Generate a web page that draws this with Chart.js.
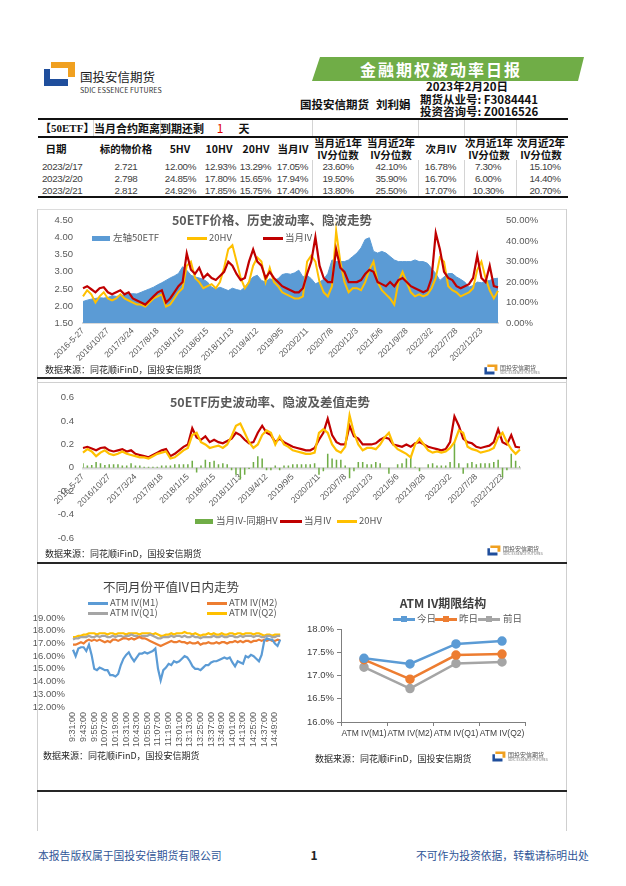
<!DOCTYPE html>
<html>
<head>
<meta charset="utf-8">
<script src="https://cdn.jsdelivr.net/npm/chart.js@4.4.1/dist/chart.umd.min.js"></script>
<style>
body{margin:0;width:626px;height:886px;position:relative;background:#fff;overflow:hidden;font-family:"Noto Sans CJK SC","Noto Sans",sans-serif}
.a{position:absolute;white-space:nowrap;line-height:1}
.r{position:absolute}
canvas{position:absolute}
</style>
</head>
<body>
<canvas id="c1" width="531" height="175" style="left:37px;top:205px"></canvas>
<canvas id="c2" width="531" height="180" style="left:37px;top:383px"></canvas>
<canvas id="c3" width="274" height="190" style="left:22px;top:570px"></canvas>
<canvas id="c4" width="266" height="150" style="left:300px;top:595px"></canvas>
<script>
// ---- data ----
var tickLabels = ['2016-5-27','2016/10/27','2017/3/24','2017/8/18','2018/1/15','2018/6/15','2018/11/13','2019/4/12','2019/9/5','2020/2/11','2020/7/8','2020/12/3','2021/5/6','2021/9/28','2022/3/2','2022/7/28','2022/12/23'];

var etfPrice = [2.13,2.17,2.20,2.22,2.24,2.23, 2.25,2.30,2.28,2.30,2.33,2.35, 2.36,2.35,2.40,2.45,2.50,2.55,
  2.62,2.68,2.75,2.82,2.88,2.95, 3.15,3.05,2.90,2.85,2.82,2.78, 2.70,2.55,2.50,2.55,2.50,2.45,
  2.52,2.48,2.45,2.55,2.72,2.85, 2.90,2.75,2.70,2.80,2.75,2.80, 2.92,2.95,2.93,2.97,3.05,2.85,
  2.90,2.80,2.65,2.70,2.78,2.95, 3.35,3.30,3.30,3.30,3.35,3.45, 3.55,3.70,3.95,4.00,3.60,3.55,
  3.60,3.55,3.45,3.35,3.30,3.30, 3.30,3.30,3.35,3.30,3.30,3.25, 3.10,2.95,2.75,2.85,2.95,2.95,
  2.85,2.78,2.70,2.55,2.60,2.70, 2.68,2.72,2.75,2.80,2.812];

var ivMonth = [17,18,16.5,15,17,17.5, 15,14,15,16,14,15, 12,11,10,9,11,13,
  15,16,10,12,15,18, 20,34,26,24,27,22, 24,22,21,23,25,30,
  28,24,21,22,30,36, 30,28,22,25,22,20, 18,17,16,15,15,17,
  24,30,42,28,22,20, 20,36,27,25,20,20, 20,21,24,26,25,20,
  19,18,20,18,21,22, 20,18,17,16,15,16, 22,44,36,25,22,21,
  18,17,18,19,22,33, 22,20,28,18,17.4];

var hv20 = [13,16,14,10,13,15, 12,11,12,14,12,11, 10,9,9,8,10,12,
  13,14,8,9,12,15, 17,28,30,22,20,17, 18,19,17,20,27,36,
  38,30,22,17,20,28, 32,30,20,27,20,18, 15,14,13,12,12,13,
  30,33,30,20,15,13, 18,45,30,20,15,17, 17,16,20,26,30,20,
  16,14,12,9,20,25, 20,15,13,14,13,14, 17,22,32,30,18,16,
  15,13,14,15,17,26, 30,22,16,12,15.75];

var timeTicks = ['9:31:00','9:43:00','9:55:00','10:07:00','10:19:00','10:31:00','10:43:00','10:55:00','11:07:00','11:19:00','13:01:00','13:13:00','13:25:00','13:37:00','13:49:00','14:01:00','14:13:00','14:25:00','14:37:00','14:49:00'];

var ivM1 = [16.5,16.0,16.6,16.7,16.7,16.4,16.9,16.1,15.0,14.9, 15.1,15.0,14.9,14.9,14.5,14.5,14.4,14.6,15.3,15.8,
  16.1,16.3,15.9,15.6,15.9,16.2,16.2,16.3,16.2,16.3, 16.4,16.6,15.0,14.1,14.9,15.1,15.4,15.3,15.6,15.5,
  15.6,15.8,16.0,15.9,15.6,15.2,15.0,15.0,14.9,15.1, 15.3,15.3,15.5,15.6,15.6,15.7,15.8,15.9,15.8,15.9,
  15.5,15.2,15.6,15.5,15.4,16.0,15.9,16.1,16.0,15.8, 15.6,16.1,17.2,17.4,17.3,17.3,17.0,16.8,17.3];
var ivM2 = [16.9,16.9,17.0,17.1,17.0,17.2,17.3,17.2,17.3,17.2, 17.3,17.2,17.1,17.2,17.1,17.3,17.3,17.2,17.3,17.4,
  17.4,17.3,17.4,17.3,17.4,17.5,17.4,17.4,17.3,17.2, 17.1,17.0,16.9,16.8,16.9,17.0,17.1,17.2,17.1,17.1,
  17.2,17.1,17.1,17.0,17.1,17.0,17.0,17.1,16.9,17.0, 17.0,17.1,17.0,17.0,17.1,17.0,17.1,17.1,17.0,17.1,
  17.1,17.2,17.1,17.2,17.1,17.2,17.2,17.1,17.2,17.2, 17.3,17.2,17.3,17.2,17.3,17.2,17.2,17.3,17.25];
var ivQ1 = [17.3,17.4,17.4,17.5,17.5,17.5,17.6,17.5,17.5,17.6, 17.5,17.6,17.6,17.5,17.5,17.6,17.5,17.6,17.6,17.5,
  17.6,17.6,17.7,17.6,17.6,17.5,17.6,17.6,17.6,17.7, 17.6,17.5,17.4,17.4,17.5,17.5,17.5,17.6,17.5,17.6,
  17.6,17.5,17.6,17.5,17.5,17.6,17.5,17.5,17.4,17.5, 17.5,17.5,17.5,17.6,17.5,17.5,17.6,17.5,17.5,17.6,
  17.6,17.5,17.5,17.6,17.5,17.6,17.6,17.6,17.5,17.6, 17.6,17.5,17.5,17.6,17.6,17.5,17.5,17.6,17.6];
var ivQ2 = [17.5,17.5,17.6,17.6,17.7,17.7,17.8,17.8,17.8,17.7, 17.8,17.8,17.8,17.7,17.8,17.8,17.7,17.8,17.8,17.8,
  17.7,17.8,17.8,17.8,17.8,17.7,17.8,17.8,17.8,17.8, 17.7,17.8,17.7,17.6,17.6,17.7,17.7,17.8,17.7,17.8,
  17.8,17.8,17.9,17.8,17.8,17.7,17.8,17.7,17.6,17.7, 17.7,17.8,17.7,17.8,17.7,17.7,17.8,17.7,17.7,17.8,
  17.8,17.7,17.8,17.8,17.7,17.8,17.8,17.8,17.7,17.8, 17.8,17.7,17.6,17.7,17.7,17.6,17.7,17.7,17.7];

var termLabels = ['ATM IV(M1)','ATM IV(M2)','ATM IV(Q1)','ATM IV(Q2)'];
var termToday = [17.37,17.25,17.68,17.74];
var termYesterday = [17.34,16.92,17.44,17.46];
var termBefore = [17.18,16.72,17.26,17.29];

var tblDates = ['2023/2/17','2023/2/20','2023/2/21'];
var tblPrice = ['2.721','2.798','2.812'];
var tblHv5 = ['12.00%','24.85%','24.92%'];
var tblHv10 = ['12.93%','17.80%','17.85%'];
var tblHv20 = ['13.29%','15.65%','15.75%'];
var tblIv = ['17.05%','17.94%','17.40%'];
var tblIv1y = ['23.60%','19.50%','13.80%'];
var tblIv2y = ['42.10%','35.90%','25.50%'];
var tblIvNext = ['16.78%','16.70%','17.07%'];
var tblNext1y = ['7.30%','6.00%','10.30%'];
var tblNext2y = ['15.10%','14.40%','20.70%'];

// ---- helpers ----
function txt(x, y, s, css, align) {
  var d = document.createElement('div');
  d.className = 'a';
  d.textContent = s;
  d.style.left = x + 'px';
  d.style.top = y + 'px';
  var tx = align === 'c' ? '-50%' : (align === 'r' ? '-100%' : '0');
  d.style.transform = 'translate(' + tx + ',-50%)';
  if (css) d.style.cssText += css;
  document.body.appendChild(d);
}
function rule(x, y, w, h, color) {
  var d = document.createElement('div');
  d.className = 'r';
  d.style.cssText = 'left:' + x + 'px;top:' + y + 'px;width:' + w + 'px;height:' + h + 'px;background:' + color;
  document.body.appendChild(d);
}
function logo(x, y, s) {
  var d = document.createElement('div');
  d.innerHTML = '<svg width="' + 34 * s + '" height="' + 26 * s + '" viewBox="0 0 34 26">' +
    '<path d="M8 1 H32 V16 H25 V7 H8 Z" fill="#F0A020"/>' +
    '<path d="M1 8 H7 V18 H25 V25 H1 Z" fill="#1F4E9C"/></svg>';
  d.style.cssText = 'position:absolute;left:' + x + 'px;top:' + y + 'px;line-height:0';
  document.body.appendChild(d);
}
function smallLogo(x, y) {
  logo(x, y, 0.42);
  txt(x + 16, y + 4, '国投安信期货', 'font-size:6px;color:#555');
  txt(x + 16, y + 9, 'SDIC ESSENCE FUTURES', 'font-size:3.5px;color:#777');
}
function legLine(x, y, w, color, h) {
  rule(x, y - (h || 3) / 2, w, h || 3, color);
}

// ---- header ----
logo(43, 61, 1);
txt(80, 77, '国投安信期货', 'font-size:12.5px;color:#1a1a1a');
txt(80, 90, 'SDIC ESSENCE FUTURES', 'font-size:7px;color:#333;letter-spacing:0.1px');

var ban = document.createElement('div');
ban.innerHTML = '<svg width="280" height="26"><polygon points="8,0 272,0 266,24 0,24" fill="#70AD47"/></svg>';
ban.style.cssText = 'position:absolute;left:312px;top:57px;line-height:0';
document.body.appendChild(ban);
txt(441, 69, '金融期权波动率日报', 'font-size:16px;font-weight:bold;color:#fff;letter-spacing:2px', 'c');

txt(467, 87, '2023年2月20日', 'font-size:11.5px;font-weight:bold;color:#111', 'c');
txt(300, 105, '国投安信期货', 'font-size:11.5px;font-weight:bold;color:#111');
txt(376, 105, '刘利娟', 'font-size:11.5px;font-weight:bold;color:#111');
txt(420, 100, '期货从业号: F3084441', 'font-size:11.5px;font-weight:bold;color:#111');
txt(420, 112, '投资咨询号: Z0016526', 'font-size:11.5px;font-weight:bold;color:#111');

// ---- table ----
rule(38, 118, 530, 2, '#111');
rule(38, 136, 530, 2, '#111');
rule(38, 196, 530, 2, '#111');
[93, 160, 312, 418, 464, 516].forEach(function (x) { rule(x, 120, 1, 16, '#d4d4d4'); });
[312, 418, 464, 516].forEach(function (x) { rule(x, 160, 1, 36, '#d4d4d4'); });

txt(40, 128, '【50ETF】', 'font-size:11px;font-weight:bold;color:#111;font-family:"Liberation Serif","Noto Sans CJK SC"');
txt(94, 128, '当月合约距离到期还剩', 'font-size:11px;font-weight:bold;color:#111');
txt(220, 128, '1', 'font-size:12px;color:#e00000', 'c');
txt(244, 128, '天', 'font-size:11px;font-weight:bold;color:#111', 'c');

var hCss = 'font-size:10.5px;font-weight:bold;color:#111';
txt(56, 149, '日期', hCss, 'c');
txt(126, 149, '标的物价格', hCss, 'c');
txt(180, 149, '5HV', hCss, 'c');
txt(219, 149, '10HV', hCss, 'c');
txt(256, 149, '20HV', hCss, 'c');
txt(293, 149, '当月IV', hCss, 'c');
txt(338, 143, '当月近1年', hCss, 'c');
txt(338, 155, 'IV分位数', hCss, 'c');
txt(391, 143, '当月近2年', hCss, 'c');
txt(391, 155, 'IV分位数', hCss, 'c');
txt(441, 149, '次月IV', hCss, 'c');
txt(489, 143, '次月近1年', hCss, 'c');
txt(489, 155, 'IV分位数', hCss, 'c');
txt(541, 143, '次月近2年', hCss, 'c');
txt(541, 155, 'IV分位数', hCss, 'c');

var dCss = 'font-size:9.8px;letter-spacing:-0.35px;color:#404040;font-family:"Liberation Sans",sans-serif';
var rowY = [167, 179, 191];
for (var r = 0; r < 3; r++) {
  var y = rowY[r];
  txt(42, y, tblDates[r], dCss);
  txt(126, y, tblPrice[r], dCss, 'c');
  txt(196, y, tblHv5[r], dCss, 'r');
  txt(236, y, tblHv10[r], dCss, 'r');
  txt(271, y, tblHv20[r], dCss, 'r');
  txt(308, y, tblIv[r], dCss, 'r');
  txt(338, y, tblIv1y[r], dCss, 'c');
  txt(391, y, tblIv2y[r], dCss, 'c');
  txt(456, y, tblIvNext[r], dCss, 'r');
  txt(488, y, tblNext1y[r], dCss, 'c');
  txt(545, y, tblNext2y[r], dCss, 'c');
}

// ---- frames ----
rule(37, 209, 530, 1, '#dcdcdc');
rule(37, 209, 1, 622, '#cfcfcf');
rule(566, 209, 1, 622, '#cfcfcf');
rule(37, 377, 530, 2, '#262626');
rule(37, 382, 530, 1, '#d0d0d0');
rule(37, 562, 530, 2, '#262626');
rule(37, 790, 530, 2, '#262626');

// ---- chart texts ----
var srcCss = 'font-size:9px;color:#262626';
var legCss = 'font-size:9.5px;color:#595959';
txt(272, 220, '50ETF价格、历史波动率、隐波走势', 'font-size:12.5px;font-weight:bold;color:#595959', 'c');
rule(92, 236, 18, 5, '#5B9BD5');
txt(113, 238, '左轴50ETF', legCss);
legLine(187, 238, 20, '#FFC000');
txt(209, 238, '20HV', legCss);
legLine(263, 238, 20, '#C00000');
txt(285, 238, '当月IV', legCss);
txt(45, 369, '数据来源：同花顺iFinD，国投安信期货', srcCss);
smallLogo(484, 364);

txt(270, 402, '50ETF历史波动率、隐波及差值走势', 'font-size:12.5px;font-weight:bold;color:#595959', 'c');
rule(195, 519, 18, 5, '#70AD47');
txt(216, 521, '当月IV-同期HV', legCss);
legLine(280, 521, 22, '#C00000');
txt(304, 521, '当月IV', legCss);
legLine(337, 521, 20, '#FFC000');
txt(359, 521, '20HV', legCss);
txt(45, 553, '数据来源：同花顺iFinD，国投安信期货', srcCss);
smallLogo(487, 545);

txt(171, 587, '不同月份平值IV日内走势', 'font-size:12.5px;color:#404040', 'c');
legLine(88, 603, 20, '#5B9BD5');
txt(110, 603, 'ATM IV(M1)', legCss);
legLine(207, 603, 20, '#ED7D31');
txt(229, 603, 'ATM IV(M2)', legCss);
legLine(88, 613, 20, '#A5A5A5');
txt(110, 613, 'ATM IV(Q1)', legCss);
legLine(207, 613, 20, '#FFC000');
txt(229, 613, 'ATM IV(Q2)', legCss);
txt(43, 755, '数据来源：同花顺iFinD，国投安信期货', srcCss);

txt(443, 603, 'ATM IV期限结构', 'font-size:12px;font-weight:bold;color:#404040', 'c');
legLine(393, 619, 22, '#5B9BD5');
rule(401, 616, 6, 6, '#5B9BD5');
txt(417, 619, '今日', legCss);
legLine(435, 619, 22, '#ED7D31');
rule(443, 616, 6, 6, '#ED7D31');
txt(459, 619, '昨日', legCss);
legLine(478, 619, 22, '#A5A5A5');
rule(486, 616, 6, 6, '#A5A5A5');
txt(503, 619, '前日', legCss);
txt(315, 758, '数据来源：同花顺iFinD，国投安信期货', srcCss);
smallLogo(492, 751);

// ---- footer ----
txt(38, 855, '本报告版权属于国投安信期货有限公司', 'font-size:10.8px;color:#2F5597');
txt(314, 855, '1', 'font-size:12px;font-weight:bold;color:#222', 'c');
txt(416, 855, '不可作为投资依据，转载请标明出处', 'font-size:10.8px;color:#2F5597');

// ---- charts ----
Chart.defaults.font.family = '"Liberation Sans","Noto Sans CJK SC",sans-serif';
Chart.defaults.color = '#595959';

var longLabels = etfPrice.map(function (v, i) { return i % 6 === 0 ? tickLabels[i / 6] : ''; });
var intraLabels = ivM1.map(function (v, i) { return i % 4 === 0 ? timeTicks[i / 4] : ''; });
var noPlugins = { legend: { display: false }, tooltip: { enabled: false } };
var noGrid = { display: false, drawTicks: false };

new Chart(document.getElementById('c1'), {
  type: 'line',
  data: {
    labels: longLabels,
    datasets: [
      { label: '当月IV', data: ivMonth, yAxisID: 'yR', borderColor: '#C00000', borderWidth: 2.2, pointRadius: 0, order: 0 },
      { label: '20HV', data: hv20, yAxisID: 'yR', borderColor: '#FFC000', borderWidth: 2, pointRadius: 0, order: 1 },
      { label: '左轴50ETF', data: etfPrice, yAxisID: 'yL', borderColor: '#5B9BD5', backgroundColor: '#5B9BD5', borderWidth: 1, pointRadius: 0, fill: 'start', order: 2 }
    ]
  },
  options: {
    responsive: false, animation: false,
    layout: { padding: { top: 13, left: 0, right: 0, bottom: 0 } },
    plugins: noPlugins,
    scales: {
      x: { offset: false, grid: noGrid, border: { color: '#D9D9D9', width: 2 },
        ticks: { autoSkip: false, minRotation: 45, maxRotation: 45, font: { size: 8.5 }, padding: 3 },
        afterFit: function (s) { s.height = 57; } },
      yL: { position: 'left', min: 1.5, max: 4.5, grid: noGrid, border: { display: false },
        ticks: { stepSize: 0.5, autoSkip: false, font: { size: 9.5 }, padding: 10, callback: function (v) { return v.toFixed(2); } },
        afterFit: function (s) { s.width = 46; } },
      yR: { position: 'right', min: 0, max: 50, grid: noGrid, border: { display: false },
        ticks: { stepSize: 10, autoSkip: false, font: { size: 9.5 }, padding: 8, callback: function (v) { return v.toFixed(2) + '%'; } },
        afterFit: function (s) { s.width = 70; } }
    }
  }
});

var diffBars = ivMonth.map(function (v, i) { return (v - hv20[i]) / 100; });
var ivDec = ivMonth.map(function (v) { return v / 100; });
var hvDec = hv20.map(function (v) { return v / 100; });

new Chart(document.getElementById('c2'), {
  type: 'line',
  data: {
    labels: longLabels,
    datasets: [
      { label: '20HV', data: hvDec, borderColor: '#FFC000', borderWidth: 2.2, pointRadius: 0, order: 0 },
      { label: '当月IV', data: ivDec, borderColor: '#C00000', borderWidth: 2.2, pointRadius: 0, order: 1 },
      { type: 'bar', label: '当月IV-同期HV', data: diffBars, backgroundColor: '#70AD47', barPercentage: 0.35, categoryPercentage: 1, order: 2 }
    ]
  },
  options: {
    responsive: false, animation: false,
    layout: { padding: { top: 10, left: 0, right: 48, bottom: 25 } },
    plugins: noPlugins,
    scales: {
      x: { offset: false, position: { y: 0 }, grid: noGrid, border: { color: '#D9D9D9', width: 2.5 },
        ticks: { autoSkip: false, minRotation: 45, maxRotation: 45, font: { size: 8.5 }, padding: 4 },
        afterFit: function (s) { s.height = 0; } },
      y: { min: -0.6, max: 0.6, grid: noGrid, border: { display: false },
        ticks: { stepSize: 0.2, autoSkip: false, font: { size: 9.5 }, padding: 9, callback: function (v) { return String(Math.round(v * 10) / 10); } },
        afterFit: function (s) { s.width = 46; } }
    }
  }
});

new Chart(document.getElementById('c3'), {
  type: 'line',
  data: {
    labels: intraLabels,
    datasets: [
      { label: 'ATM IV(M1)', data: ivM1, borderColor: '#5B9BD5', borderWidth: 2.2, pointRadius: 0 },
      { label: 'ATM IV(M2)', data: ivM2, borderColor: '#ED7D31', borderWidth: 2.2, pointRadius: 0 },
      { label: 'ATM IV(Q1)', data: ivQ1, borderColor: '#A5A5A5', borderWidth: 2.2, pointRadius: 0 },
      { label: 'ATM IV(Q2)', data: ivQ2, borderColor: '#FFC000', borderWidth: 2.2, pointRadius: 0 }
    ]
  },
  options: {
    responsive: false, animation: false,
    layout: { padding: { top: 48, left: 0, right: 7, bottom: 0 } },
    plugins: noPlugins,
    scales: {
      x: { offset: false, grid: noGrid, border: { display: false },
        ticks: { autoSkip: false, minRotation: 90, maxRotation: 90, font: { size: 9 }, padding: 5 },
        afterFit: function (s) { s.height = 53; } },
      y: { min: 12, max: 19, grid: noGrid, border: { display: false },
        ticks: { stepSize: 1, autoSkip: false, font: { size: 9.5 }, padding: 8, callback: function (v) { return v.toFixed(2) + '%'; } },
        afterFit: function (s) { s.width = 51; } }
    }
  }
});

new Chart(document.getElementById('c4'), {
  type: 'line',
  data: {
    labels: termLabels,
    datasets: [
      { label: '今日', data: termToday, borderColor: '#5B9BD5', backgroundColor: '#5B9BD5', borderWidth: 2.5, pointRadius: 3.5 },
      { label: '昨日', data: termYesterday, borderColor: '#ED7D31', backgroundColor: '#ED7D31', borderWidth: 2.5, pointRadius: 3.5 },
      { label: '前日', data: termBefore, borderColor: '#A5A5A5', backgroundColor: '#A5A5A5', borderWidth: 2.5, pointRadius: 3.5 }
    ]
  },
  options: {
    responsive: false, animation: false,
    layout: { padding: { top: 34, left: 0, right: 41, bottom: 0 } },
    plugins: noPlugins,
    scales: {
      x: { offset: true, grid: { display: true, drawOnChartArea: false, offset: true, tickLength: 4, color: '#7f7f7f' },
        border: { color: '#7f7f7f' },
        ticks: { autoSkip: false, font: { size: 8.5 }, color: '#404040', padding: 3, minRotation: 0, maxRotation: 0 },
        afterFit: function (s) { s.height = 23; } },
      y: { min: 16, max: 18, grid: { display: true, drawOnChartArea: false, tickLength: 4, color: '#7f7f7f' },
        border: { color: '#7f7f7f' },
        ticks: { stepSize: 0.5, autoSkip: false, font: { size: 9.5 }, color: '#404040', padding: 3, callback: function (v) { return v.toFixed(1) + '%'; } },
        afterFit: function (s) { s.width = 41; } }
    }
  }
});
</script>
</body>
</html>
